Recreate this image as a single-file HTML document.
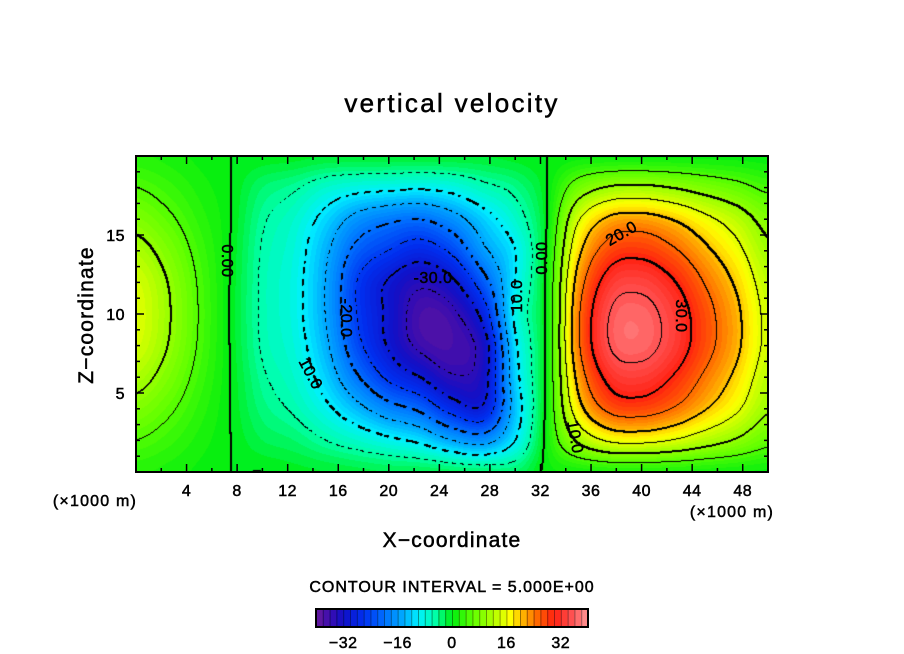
<!DOCTYPE html>
<html><head><meta charset="utf-8"><style>
html,body{margin:0;padding:0;background:#fff;}
#wrap{position:relative;width:904px;height:654px;overflow:hidden;background:#fff;font-family:"Liberation Sans",sans-serif;}
#field{position:absolute;left:136px;top:156px;}
#over{position:absolute;left:0;top:0;}
</style></head><body>
<div id="wrap">
<canvas id="field" width="632" height="316"></canvas>
<svg id="over" width="904" height="654"></svg>
</div>
<script>
// grid coordinates (x in 1000 m, z in 1000 m)
const xCoords = [0,2.5,5,7.5,10,12.5,15,17.5,20,22.5,25,27.5,30,32.5,35,37.5,40,42.5,45,47.5,50];
const zCoords = [0,2,4,6,8,10,12,14,16,18,20];
// vertical velocity values, rows by z
const wRowZ0  = [2.3,1.6,0.75,0,0,-0.5,-1,-1.5,-2,-2,-2.5,-3,-3,0.5,1.2,1.75,1.8,1.65,1.35,1.05,0.7];
const wRowZ2  = [5,3.5,1.6,0,-2,-3,-5,-7,-9,-11,-15,-17,-10,1,10.8,15.8,16.4,14.9,12.2,9.5,6.3];
const wRowZ4  = [8.3,5.8,2.7,-0.1,-3.5,-5.5,-9,-13.5,-18,-21,-27,-29,-13,1,18,26.3,27.4,24.8,20.3,15.8,10.5];
const wRowZ6  = [11.7,8.2,3.8,-0.1,-4.5,-7,-12,-19.5,-26,-30,-34.5,-32,-12,1,21.6,31.5,32.9,29.7,24.3,18.9,12.6];
const wRowZ8  = [14.3,10,4.65,-0.2,-5.3,-8,-14,-23.5,-30.5,-36,-37,-32.5,-11,1,24,35,36.5,33,27,21,14];
const wRowZ10 = [15,10.5,4.9,-0.3,-5.5,-8.5,-15,-25,-31,-37,-36,-28,-9,1,24,35,36.5,33,27,21,14];
const wRowZ12 = [14.3,10,4.65,-0.2,-5.5,-8.5,-15,-25,-30.5,-34,-31,-22,-10,1,22.1,32.2,33.6,30.4,24.8,19.3,12.9];
const wRowZ14 = [11.7,8.2,3.85,-0.1,-5.2,-8,-14,-21.5,-25,-27.5,-24,-16,-10,0.5,18.7,27.3,28.5,25.7,21.1,16.4,10.9];
const wRowZ16 = [8.3,5.8,2.7,0,-4.5,-7,-11.5,-16.5,-19,-20,-17,-12,-7,0,14.4,21,21.9,19.8,16.2,12.6,8.4];
const wRowZ18 = [5,3.5,1.6,0,-3,-4.5,-7,-8.5,-9,-9.5,-8.5,-6,-4,0,7.2,10.5,11,9.9,8.1,6.3,4.2];
const wRowZ20 = [2.3,1.6,0.7,0,-0.3,-0.5,-1,-1,-1,-1,-1,-1,-0.5,0,0.5,0.7,0.7,0.7,0.6,0.5,0.3];
const wGrid = [wRowZ0,wRowZ2,wRowZ4,wRowZ6,wRowZ8,wRowZ10,wRowZ12,wRowZ14,wRowZ16,wRowZ18,wRowZ20];
// colormap
const cmapValues = [-40,-36,-32,-26,-20,-14,-10,-5,0,6,12,17,21,25,30,35,40];
const cmapColors = ["#6a1a9a","#3a0cb0","#1010c8","#0030f0","#0070ff","#00b0ff","#00f0ff","#00ffa8","#00ee10","#60ff00","#b0ff00","#ffff00","#ffb000","#ff6800","#ff2010","#ff5050","#ff9898"];
const cbarTicks = [-32,-16,0,16,32];
const xTickLabels = [4,8,12,16,20,24,28,32,36,40,44,48];
const zTickLabels = [5,10,15];
const contourStep = 5;

const X0=136,X1=768,Y0=156,Y1=472, XMAX=50, ZMAX=20;
const sx = v => X0 + v/XMAX*(X1-X0);
const sz = v => Y1 - v/ZMAX*(Y1-Y0);
const CB0=316, CB1=588, CBY=609, CBH=18;
const cbx = v => CB0 + (v+40)/80*(CB1-CB0);

function hex(c){return [parseInt(c.substr(1,2),16),parseInt(c.substr(3,2),16),parseInt(c.substr(5,2),16)];}
const cmapRGB = cmapColors.map(hex);
function colorOf(v){
  if(v<=cmapValues[0]) return cmapRGB[0];
  for(let i=1;i<cmapValues.length;i++){
    if(v<=cmapValues[i]){const t=(v-cmapValues[i-1])/(cmapValues[i]-cmapValues[i-1]);const a=cmapRGB[i-1],b=cmapRGB[i];
      return [a[0]+(b[0]-a[0])*t,a[1]+(b[1]-a[1])*t,a[2]+(b[2]-a[2])*t];}
  }
  return cmapRGB[cmapRGB.length-1];
}
function cr(p0,p1,p2,p3,t){return 0.5*((2*p1)+(-p0+p2)*t+(2*p0-5*p1+4*p2-p3)*t*t+(-p0+3*p1-3*p2+p3)*t*t*t);}
function interp1(arr,f){const n=arr.length;let i=Math.floor(f);if(i<0)i=0;if(i>n-2)i=n-2;const t=f-i;
  const g=k=>arr[Math.max(0,Math.min(n-1,k))];return cr(g(i-1),g(i),g(i+1),g(i+2),t);}

// field
const cv=document.getElementById('field');const ctx=cv.getContext('2d');
const W=632,H=316;const img=ctx.createImageData(W,H);const val=new Float32Array(W*H);
const dx=xCoords[1]-xCoords[0], dz=zCoords[1]-zCoords[0];
const rowsX=wGrid.map(()=>new Float32Array(W));
for(let r=0;r<wGrid.length;r++){for(let i=0;i<W;i++){const X=(i+0.5)/W*XMAX;rowsX[r][i]=interp1(wGrid[r],(X-xCoords[0])/dx);}}
for(let j=0;j<H;j++){const Z=(H-j-0.5)/H*ZMAX;const fz=(Z-zCoords[0])/dz;
  for(let i=0;i<W;i++){const col=[];for(let r=0;r<rowsX.length;r++)col.push(rowsX[r][i]);val[j*W+i]=interp1(col,fz);}}
for(let p=0;p<W*H;p++){const q=Math.floor(val[p]);const c=colorOf(q+0.5);img.data[p*4]=c[0];img.data[p*4+1]=c[1];img.data[p*4+2]=c[2];img.data[p*4+3]=255;}
function setBlack(i,j){if(i<0||j<0||i>=W||j>=H)return;const p=(j*W+i)*4;img.data[p]=0;img.data[p+1]=0;img.data[p+2]=0;}
for(let j=0;j<H;j++){for(let i=0;i<W;i++){
  const v=val[j*W+i];const k=Math.floor(v/contourStep);
  let lev=null;
  if(i+1<W){const k2=Math.floor(val[j*W+i+1]/contourStep);if(k2!==k)lev=Math.max(k,k2)*contourStep;}
  if(lev===null&&j+1<H){const k2=Math.floor(val[(j+1)*W+i]/contourStep);if(k2!==k)lev=Math.max(k,k2)*contourStep;}
  if(lev===null)continue;
  const thick=(Math.round(lev)%10===0);
  if(lev<0){const s=thick?6:4;if(((Math.floor(i/s)+Math.floor((j+s/2)/s))&1)===1)continue;}
  setBlack(i,j);if(thick){setBlack(i+1,j);setBlack(i,j+1);}
}}
ctx.putImageData(img,0,0);

// overlay
const svg=document.getElementById('over');const NS='http://www.w3.org/2000/svg';
function el(tag,attrs,parent){const e=document.createElementNS(NS,tag);for(const k in attrs)e.setAttribute(k,attrs[k]);(parent||svg).appendChild(e);return e;}
function txt(s,x,y,size,anchor,rot,parent,ls){const t=el('text',{x:x,y:y,'font-size':size,'text-anchor':anchor||'middle','font-family':'Liberation Sans, sans-serif',fill:'#000',stroke:'#000','stroke-width':0.5,'letter-spacing':(ls||0)},parent);
  if(rot)t.setAttribute('transform','rotate('+rot+' '+x+' '+y+')');t.textContent=s;return t;}

const frame=el('rect',{x:X0,y:Y0,width:X1-X0,height:Y1-Y0,fill:'none',stroke:'#000','stroke-width':2});



const ticks=el('g',{stroke:'#000','stroke-width':1.5});


for(let v=2;v<XMAX;v+=2){const L=(v%4===0)?8:4;const x=sx(v);
  el('line',{x1:x,y1:Y1,x2:x,y2:Y1-L},ticks);el('line',{x1:x,y1:Y0,x2:x,y2:Y0+L},ticks);}
for(let v=1;v<ZMAX;v++){const L=(v%5===0)?8:4;const y=sz(v);
  el('line',{x1:X0,y1:y,x2:X0+L,y2:y},ticks);el('line',{x1:X1,y1:y,x2:X1-L,y2:y},ticks);}

const xl=el('g',{});


xTickLabels.forEach(v=>{const t=txt(String(v),sx(v),496,16,'middle',0,xl,0.5);
  
  });
const zl=el('g',{});


zTickLabels.forEach(v=>{const t=txt(String(v),125,sz(v)+6,16,'end',0,zl,0.5);
  
  });

let t;
t=txt('vertical velocity',452,112,26,'middle',0,null,2.3);


t=txt('Z\u2212coordinate',93,315,21,'middle',-90,null,1.2);


t=txt('X\u2212coordinate',452,547,21,'middle',0,null,1.2);


t=txt('(\u00d71000 m)',95,506,16,'middle',0,null,1.2);


t=txt('(\u00d71000 m)',732,517,16,'middle',0,null,1.2);


t=txt('CONTOUR INTERVAL = 5.000E+00',452,592,16,'middle',0,null,1);



// contour labels
const labs=[['0.00',222,255,90],['-20.0',341,312,90],['10.0',306,370,62],['-30.0',433,277,0],['10.0',522,290,-90],['0.00',547,252,-90],['20.0',624,232,-30],['30.0',676,310,90],['10.0',570,432,80]];
const lg=el('g',{});


labs.forEach(a=>{const e=txt(a[0],a[1],a[2]+6,16,'middle',a[3],lg,0.5);
  
  });

// colorbar
const cb=el('g',{});


for(let v=-40;v<40;v+=2){const c=colorOf(v+1);const r=el('rect',{x:cbx(v),y:CBY,width:cbx(v+2)-cbx(v)+0.3,height:CBH,fill:'rgb('+c.map(Math.round).join(',')+')'},cb);
  
  
  const c2=c.map(q=>Math.round(q*0.6));
  el('line',{x1:cbx(v)+0.5,y1:CBY,x2:cbx(v)+0.5,y2:CBY+CBH,stroke:'rgb('+c2.join(',')+')','stroke-width':1},cb);}
el('rect',{x:CB0,y:CBY,width:CB1-CB0,height:CBH,fill:'none',stroke:'#000','stroke-width':2},cb);
cbarTicks.forEach(v=>{const e=txt((v<0?'\u2212':'')+Math.abs(v),cbx(v),648,16,'middle',0,cb,0.5);
  
  });
</script>
</body></html>
